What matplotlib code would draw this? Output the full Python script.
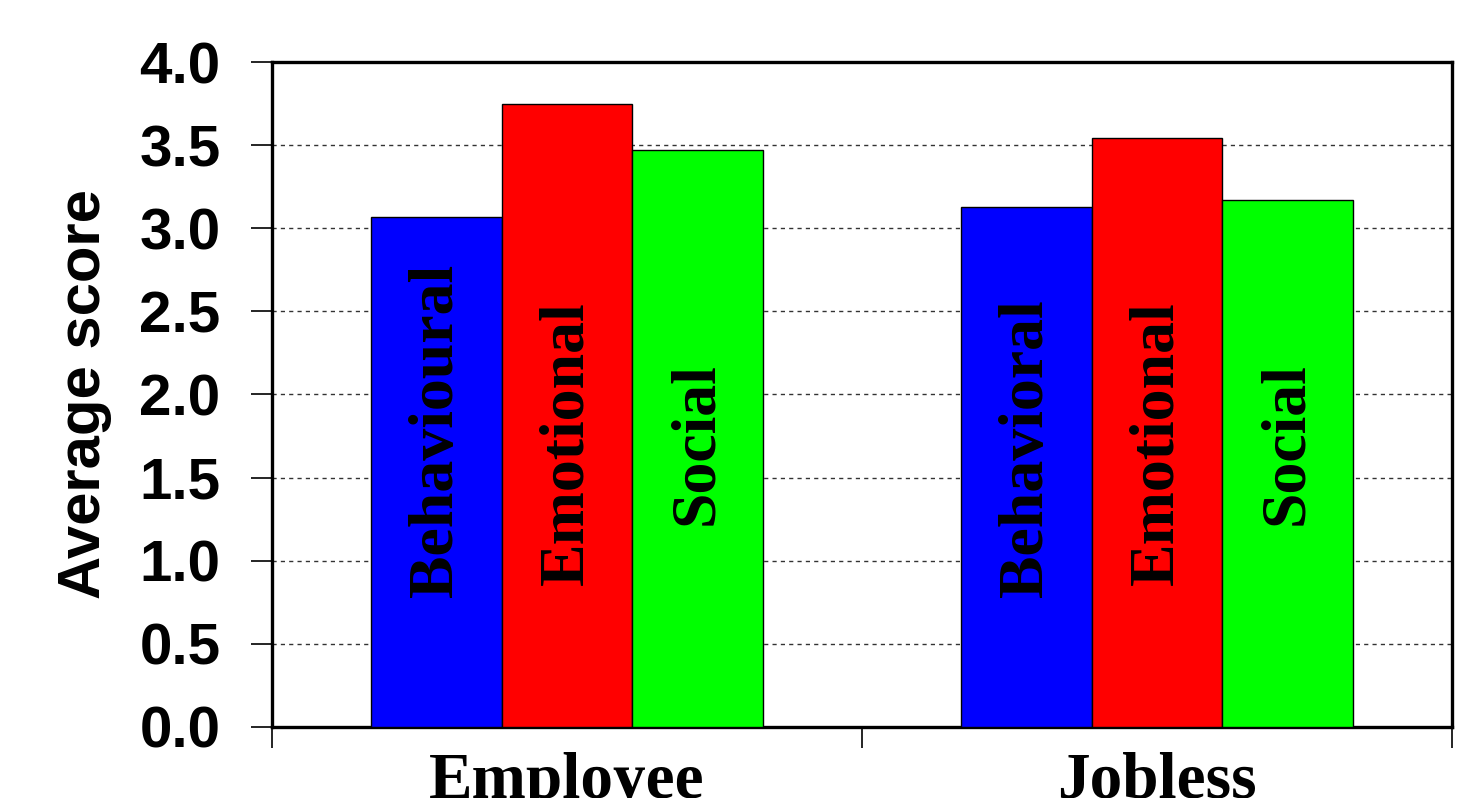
import numpy as np
import matplotlib.pyplot as plt

groups = ['Employee', 'Jobless']
series = ['Behavioural', 'Emotional', 'Social']
bar_labels = [['Behavioural', 'Emotional', 'Social'],
              ['Behavioral', 'Emotional', 'Social']]
employee = [3.07, 3.75, 3.47]
jobless = [3.13, 3.54, 3.17]
colors = ['#0000ff', '#ff0000', '#00ff00']
yticks = [0.0, 0.5, 1.0, 1.5, 2.0, 2.5, 3.0, 3.5, 4.0]
label_base = [0.78, 0.855, 1.215]  # where the rotated labels start

values = np.array([employee, jobless])

fig = plt.figure(figsize=(14.78, 7.98), dpi=100)
ax = fig.add_axes([0.184, 0.089, 0.7984, 0.8333])

w = 0.221
centers = np.arange(len(groups)) + 0.5
for j in range(len(series)):
    x = centers + (j - 1) * w
    ax.bar(x, values[:, j], width=w, color=colors[j], edgecolor='black',
           linewidth=1, zorder=3)
    for i in range(len(groups)):
        ax.text(x[i], label_base[j], bar_labels[i][j], rotation=90, ha='center',
                va='bottom', family='Liberation Serif', fontweight='bold',
                fontsize=46, zorder=4)

ax.set_xlim(0, 2)
ax.set_ylim(0, 4)
ax.set_yticks(yticks)
ax.set_yticklabels(['%.1f' % v for v in yticks], family='Liberation Sans',
                   fontweight='bold', fontsize=42)
ax.set_xticks([0, 1, 2])
ax.set_xticklabels([])
ax.set_xticks(centers, minor=True)
ax.set_xticklabels(groups, minor=True, family='Liberation Serif',
                   fontweight='bold', fontsize=47)
ax.tick_params(axis='x', which='minor', length=0, pad=18)
ax.tick_params(axis='both', which='major', length=15, width=1.2, direction='out')
ax.tick_params(axis='y', pad=22)
ax.set_ylabel('Average score', family='Liberation Sans', fontweight='bold',
              fontsize=43, labelpad=20)

ax.yaxis.grid(True, linestyle=(0, (3, 3)), color='#333333', linewidth=1, zorder=0)
ax.set_axisbelow(True)
for s in ax.spines.values():
    s.set_linewidth(2.4)

fig.savefig('out.png', dpi=100)
